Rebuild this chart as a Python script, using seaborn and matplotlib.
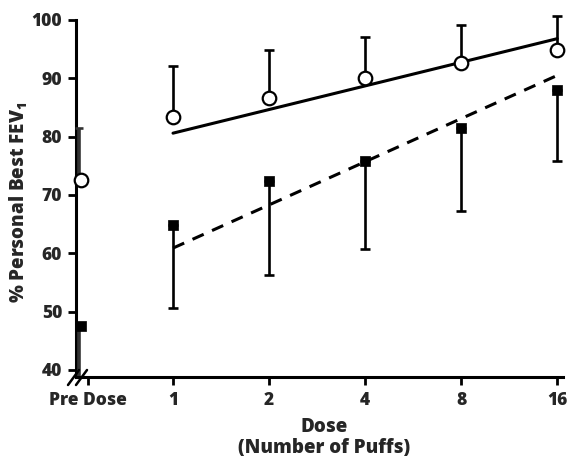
import numpy as np
import pandas as pd
import matplotlib
matplotlib.use("Agg")
import matplotlib.pyplot as plt
import seaborn as sns

# ---- data ----
doses = [1, 2, 4, 8, 16]
circ_mean = [83.4, 86.7, 90.1, 92.6, 94.9]
circ_upper = [92.1, 94.9, 97.1, 99.1, 100.7]
sq_mean = [64.8, 72.4, 75.8, 81.5, 88.0]
sq_lower = [50.6, 56.3, 60.7, 67.3, 75.8]
pre_circ_mean = 72.5
pre_circ_upper = 81.4
pre_sq_mean = 47.5
pre_sq_lower = 38.9
fit_doses = [1, 16]
circ_fit = [80.6, 96.8]
sq_fit = [60.9, 90.5]
x_tick_labels = ["Pre Dose", "1", "2", "4", "8", "16"]
y_ticks = [40, 50, 60, 70, 80, 90, 100]

PRE_POS = -0.96   # where pre-dose points sit (break region)
PRE_TICK = -0.885

sns.set_style("ticks")
plt.rcParams["font.family"] = ["Open Sans", "DejaVu Sans"]
plt.rcParams["font.weight"] = "heavy"
plt.rcParams["mathtext.fontset"] = "custom"
plt.rcParams["mathtext.rm"] = "Open Sans:heavy"
plt.rcParams["mathtext.it"] = "Open Sans:heavy"
plt.rcParams["mathtext.bf"] = "Open Sans:heavy"

fig = plt.figure(figsize=(5.69, 4.59), dpi=100)
ax = fig.add_axes([76/569, 1-377/459, (563-76)/569, (377-20)/459])

lx = np.log2(doses)
df_c = pd.DataFrame({"x": lx, "y": circ_mean})
df_s = pd.DataFrame({"x": lx, "y": sq_mean})
df_cf = pd.DataFrame({"x": np.log2(fit_doses), "y": circ_fit})
df_sf = pd.DataFrame({"x": np.log2(fit_doses), "y": sq_fit})

# fit lines
sns.lineplot(data=df_cf, x="x", y="y", ax=ax, color="black", lw=2.2, zorder=2)
sns.lineplot(data=df_sf, x="x", y="y", ax=ax, color="black", lw=2.2,
             linestyle=(0, (4, 3)), zorder=2)

# error bars (one-sided)
ax.errorbar(lx, circ_mean, yerr=[np.zeros(5), np.array(circ_upper) - np.array(circ_mean)],
            fmt="none", ecolor="black", elinewidth=1.9, capsize=3.5, capthick=1.9,
            zorder=3, clip_on=False)
ax.errorbar(lx, sq_mean, yerr=[np.array(sq_mean) - np.array(sq_lower), np.zeros(5)],
            fmt="none", ecolor="black", elinewidth=1.9, capsize=3.5, capthick=1.9,
            zorder=3, clip_on=False)
ax.errorbar([PRE_POS - 0.02], [pre_circ_mean], yerr=[[0], [pre_circ_upper - pre_circ_mean]],
            fmt="none", ecolor="#333333", elinewidth=2.6, capsize=3, capthick=1.9,
            zorder=3, clip_on=False)
ax.errorbar([PRE_POS - 0.02], [pre_sq_mean], yerr=[[pre_sq_mean - pre_sq_lower], [0]],
            fmt="none", ecolor="#333333", elinewidth=2.6, capsize=0,
            zorder=3, clip_on=False)

# markers
pre_c = pd.DataFrame({"x": [PRE_POS], "y": [pre_circ_mean]})
pre_s = pd.DataFrame({"x": [PRE_POS], "y": [pre_sq_mean]})
for d in (df_c, pre_c):
    sns.scatterplot(data=d, x="x", y="y", ax=ax, marker="o", s=95,
                    facecolor="white", edgecolor="black", linewidth=1.6,
                    zorder=4, clip_on=False)
for d in (df_s, pre_s):
    sns.scatterplot(data=d, x="x", y="y", ax=ax, marker="s", s=55,
                    color="black", edgecolor="black", linewidth=0.5,
                    zorder=4, clip_on=False)

ax.set_xlim(-1.01, 4.06)
ax.set_ylim(38.8, 100)
ax.set_xticks([PRE_TICK] + list(lx))
ax.set_xticklabels(x_tick_labels)
ax.set_yticks(y_ticks)
ax.set_yticklabels([str(v) for v in y_ticks])
for lab in ax.get_xticklabels() + ax.get_yticklabels():
    lab.set_fontweight("heavy")
    lab.set_fontsize(12.5)
ax.tick_params(axis="both", length=6, width=2, color="black", pad=4)
ax.tick_params(axis="x", pad=5)

for s in ("top", "right"):
    ax.spines[s].set_visible(False)
for s in ("left", "bottom"):
    ax.spines[s].set_linewidth(2.2)
    ax.spines[s].set_color("black")

ax.set_ylabel("% Personal Best FEV$_1$", fontsize=13.5, fontweight="heavy")
ax.yaxis.set_label_coords(-0.094, 0.49)

ax.set_xlabel("Dose\n(Number of Puffs)", fontsize=13.5, fontweight="heavy",
              linespacing=1.05)
ax.xaxis.set_label_coords(0.51, -0.112)
ax.xaxis.label.set_verticalalignment("top")

# axis-break marks at the corner
W, H = 563 - 76, 377 - 20
def fx(px): return (px - 76) / W
def fy(py): return (377 - py) / H
for off in (0, 8):
    ax.plot([fx(68 + off), fx(79 + off)], [fy(385), fy(370)], transform=ax.transAxes,
            color="black", lw=1.8, clip_on=False, zorder=5)

fig.savefig("out.png", dpi=100)
